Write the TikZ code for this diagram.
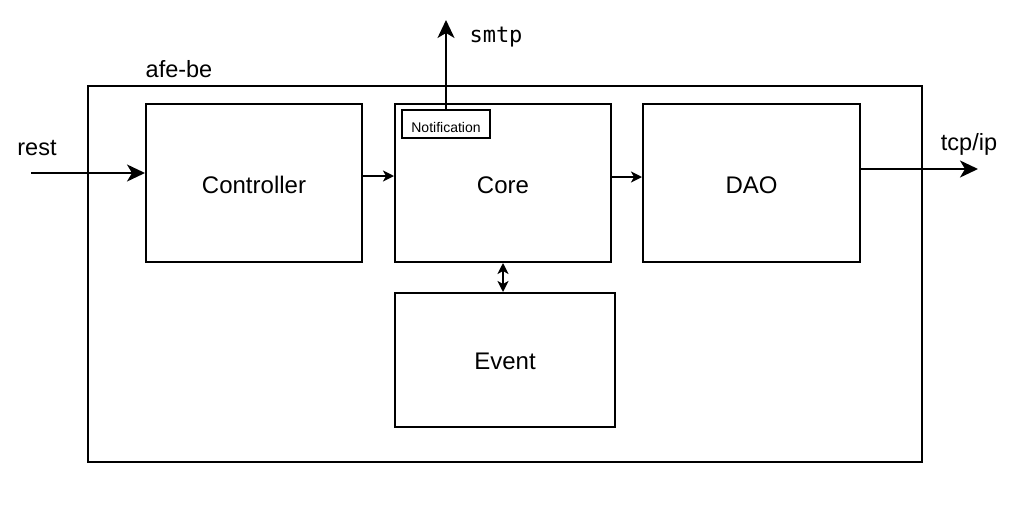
\documentclass[tikz,border=0pt]{standalone}
\usepackage{fontspec}
\setmainfont{Liberation Sans}
\setmonofont{DejaVu Sans Mono}
\usetikzlibrary{arrows.meta}
\newcommand{\dn}[2]{\raisebox{-#1pt}[\height][\depth]{#2}}
\tikzset{
  box/.style={draw, line width=2pt, inner sep=0pt, font=\fontsize{24}{27}\selectfont},
  lbl/.style={inner sep=0pt, font=\fontsize{23.5}{26}\selectfont},
  bigarrow/.style={line width=2pt, -{Stealth[length=18pt,width=17pt,inset=5pt]}},
  smallarrow/.style={line width=2pt, -{Stealth[length=11pt,width=11pt,inset=3pt]}},
  dblarrow/.style={line width=2pt, {Stealth[length=11pt,width=11pt,inset=3pt]}-{Stealth[length=11pt,width=11pt,inset=3pt]}},
}
\begin{document}
\begin{tikzpicture}[x=1pt,y=-1pt]
\useasboundingbox (0,0) rectangle (1017,509);
\node[box, minimum width=834pt, minimum height=376pt] (outer) at (505,274) {};
\node[lbl] (afebe) at (179,69) {afe-be};
\node[box, minimum width=216pt, minimum height=158pt] (ctrl) at (254,183) {\dn{2}{Controller}};
\node[box, minimum width=216pt, minimum height=158pt] (core) at (503,183) {\dn{2}{Core}};
\node[box, minimum width=217pt, minimum height=158pt] (dao) at (751.5,183) {\dn{2}{DAO}};
\node[box, minimum width=220pt, minimum height=134pt] (event) at (505,360) {\dn{1}{Event}};
\node[box, minimum width=88pt, minimum height=28pt, font=\fontsize{14}{16}\selectfont] (notif) at (446,124) {\dn{3}{Notification}};
\node[lbl] (rest) at (37,148) {rest};
\node[lbl] (tcp) at (969,144) {tcp/ip};
\node[lbl, font=\ttfamily\fontsize{22}{24}\selectfont] (smtp) at (496,37) {smtp};
\coordinate (restin) at (31,173);
\coordinate (tcpout) at (978,169);
\coordinate (smtpout) at (446,20);
\draw[bigarrow] (restin) -- (restin -| ctrl.west);
\draw[smallarrow] ([yshift=7pt]ctrl.east) -- ([yshift=7pt]core.west);
\draw[smallarrow] ([yshift=6pt]core.east) -- ([yshift=6pt]dao.west);
\draw[bigarrow] ([yshift=14pt]dao.east) -- (tcpout);
\draw[bigarrow] (notif.north) -- (smtpout);
\draw[dblarrow] (core.south) -- (core.south |- event.north);
\end{tikzpicture}
\end{document}
